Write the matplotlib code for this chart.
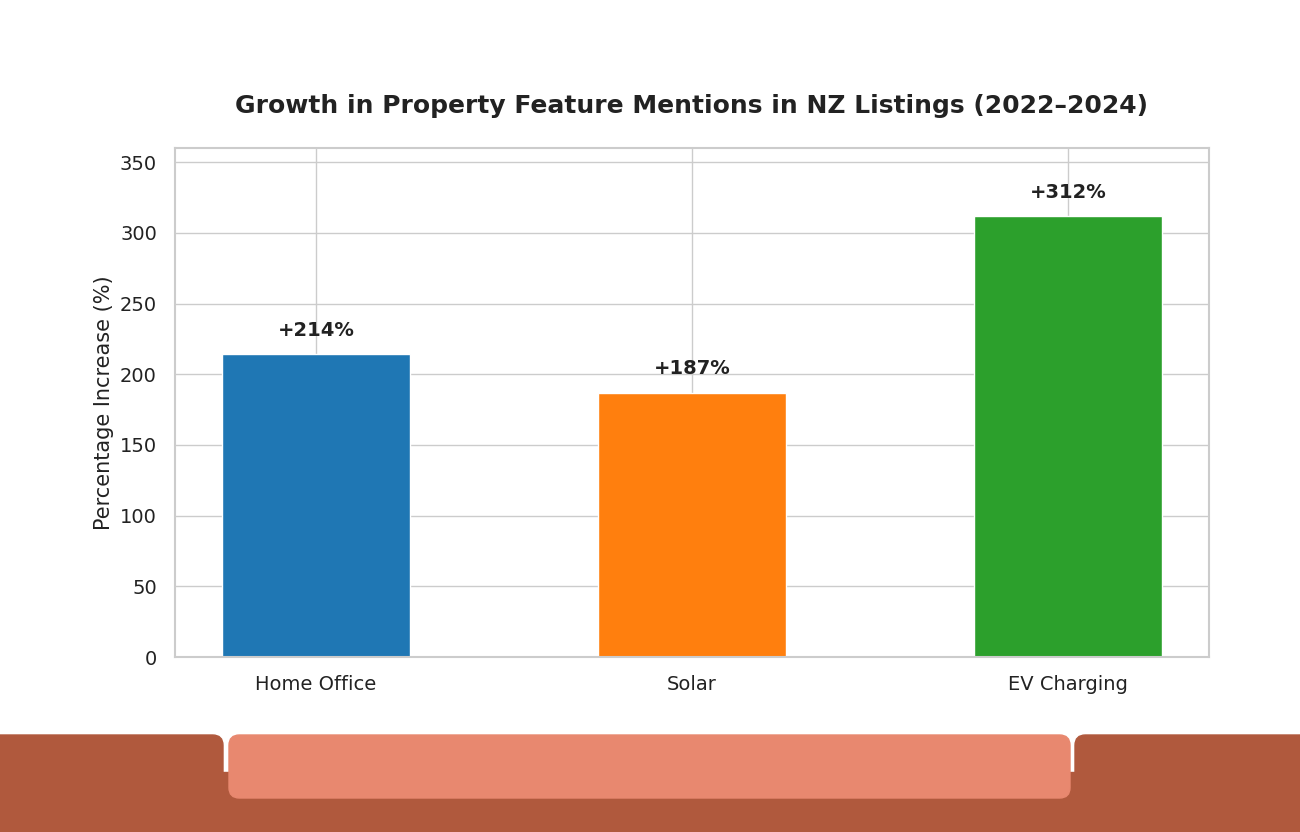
import matplotlib.pyplot as plt
import seaborn as sns
from matplotlib.patches import FancyBboxPatch, Rectangle

features = ['Home Office', 'Solar', 'EV Charging']
increase = [214, 187, 312]
bar_colors = ['#1f77b4', '#ff7f0e', '#2ca02c']

sns.set_theme(style='whitegrid')
plt.rcParams['font.family'] = ['DejaVu Sans']

fig = plt.figure(figsize=(13, 8.32), dpi=100)
ax = fig.add_axes([0.1346, 0.2103, 0.7954, 0.6118])

ax.bar(features, increase, width=0.5, color=bar_colors)
for i, v in enumerate(increase):
    ax.text(i, v + 10, '+%d%%' % v, ha='center', va='bottom',
            fontsize=14, fontweight='bold', color='#222222')

ax.set_ylim(0, 360)
ax.set_ylabel('Percentage Increase (%)', fontsize=15, color='#222222', labelpad=4)
ax.set_title('Growth in Property Feature Mentions in NZ Listings (2022\u20132024)',
             fontsize=18, fontweight='bold', color='#222222', pad=25)
ax.tick_params(axis='x', labelsize=14, colors='#222222', pad=7)
ax.tick_params(axis='y', labelsize=14, colors='#222222', pad=7)
for s in ax.spines.values():
    s.set_color('#cccccc')
    s.set_linewidth(1.5)

# bottom decorative band
W, H = 1300, 832
dark = '#b0593d'
light = '#e8886f'
def px(x, y, w, h):
    return x / W, 1 - (y + h) / H, w / W, h / H

x, y, w, h = px(0, 772, 1300, 60)
fig.patches.append(Rectangle((x, y), w, h, transform=fig.transFigure, color=dark, zorder=0))
for (bx, bw) in [(-20, 243), (1075, 245)]:
    x, y, w, h = px(bx, 735, bw, 120)
    fig.patches.append(FancyBboxPatch((x, y), w, h, boxstyle='round,pad=0,rounding_size=0.008',
                                      transform=fig.transFigure, color=dark, zorder=0,
                                      mutation_aspect=1.56))
x, y, w, h = px(229, 735, 841, 63)
fig.patches.append(FancyBboxPatch((x, y), w, h, boxstyle='round,pad=0,rounding_size=0.008',
                                  transform=fig.transFigure, color=light, zorder=1,
                                  mutation_aspect=1.56))

fig.savefig('out.png', dpi=100)
